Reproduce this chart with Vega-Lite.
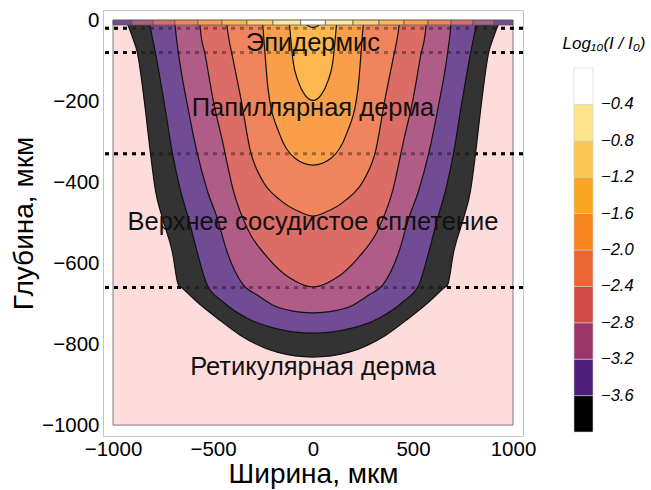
{
  "$schema": "https://vega.github.io/schema/vega-lite/v6.json",
  "width": 420,
  "height": 426,
  "autosize": {"type": "none"},
  "padding": {"left": 103, "top": 10, "right": 128, "bottom": 54},
  "background": "white",
  "config": {
    "view": {"stroke": "#c4c4c4", "strokeWidth": 1},
    "font": "Liberation Sans",
    "text": {"font": "Liberation Sans"}
  },
  "datasets": {
    "frame": [{"x1": -1000, "x2": 1000, "y1": 0, "y2": -1000}],
    "dash": [{"d": -20}, {"d": -80}, {"d": -330}, {"d": -660}],
    "bounds": [
      {"b": "k", "x": -930, "d": -8}, {"b": "k", "x": -923, "d": -15}, {"b": "k", "x": -903, "d": -42}, {"b": "k", "x": -878, "d": -81}, {"b": "k", "x": -838, "d": -222}, {"b": "k", "x": -813, "d": -328}, {"b": "k", "x": -788, "d": -420}, {"b": "k", "x": -753, "d": -489}, {"b": "k", "x": -703, "d": -573}, {"b": "k", "x": -673, "d": -654}, {"b": "k", "x": -653, "d": -662}, {"b": "k", "x": -579, "d": -696}, {"b": "k", "x": -479, "d": -736}, {"b": "k", "x": -364, "d": -778}, {"b": "k", "x": -180, "d": -820}, {"b": "k", "x": 0, "d": -832},
      {"b": "k", "x": 180, "d": -820}, {"b": "k", "x": 364, "d": -778}, {"b": "k", "x": 479, "d": -736}, {"b": "k", "x": 579, "d": -696}, {"b": "k", "x": 653, "d": -662}, {"b": "k", "x": 673, "d": -654}, {"b": "k", "x": 703, "d": -573}, {"b": "k", "x": 753, "d": -489}, {"b": "k", "x": 788, "d": -420}, {"b": "k", "x": 813, "d": -328}, {"b": "k", "x": 838, "d": -222}, {"b": "k", "x": 878, "d": -81}, {"b": "k", "x": 903, "d": -42}, {"b": "k", "x": 923, "d": -15}, {"b": "k", "x": 930, "d": -8},

      {"b": "p", "x": -818, "d": -8}, {"b": "p", "x": -813, "d": -20}, {"b": "p", "x": -788, "d": -81}, {"b": "p", "x": -738, "d": -222}, {"b": "p", "x": -703, "d": -328}, {"b": "p", "x": -663, "d": -420}, {"b": "p", "x": -623, "d": -489}, {"b": "p", "x": -579, "d": -573}, {"b": "p", "x": -529, "d": -654}, {"b": "p", "x": -449, "d": -696}, {"b": "p", "x": -329, "d": -736}, {"b": "p", "x": -200, "d": -760}, {"b": "p", "x": 0, "d": -773},
      {"b": "p", "x": 200, "d": -760}, {"b": "p", "x": 329, "d": -736}, {"b": "p", "x": 449, "d": -696}, {"b": "p", "x": 529, "d": -654}, {"b": "p", "x": 579, "d": -573}, {"b": "p", "x": 623, "d": -489}, {"b": "p", "x": 663, "d": -420}, {"b": "p", "x": 703, "d": -328}, {"b": "p", "x": 738, "d": -222}, {"b": "p", "x": 788, "d": -81}, {"b": "p", "x": 813, "d": -20}, {"b": "p", "x": 818, "d": -8},

      {"b": "m", "x": -690, "d": -8}, {"b": "m", "x": -688, "d": -20}, {"b": "m", "x": -673, "d": -81}, {"b": "m", "x": -623, "d": -222}, {"b": "m", "x": -579, "d": -328}, {"b": "m", "x": -529, "d": -420}, {"b": "m", "x": -479, "d": -489}, {"b": "m", "x": -429, "d": -573}, {"b": "m", "x": -349, "d": -654}, {"b": "m", "x": -279, "d": -679}, {"b": "m", "x": -200, "d": -704}, {"b": "m", "x": -65, "d": -721}, {"b": "m", "x": 0, "d": -723},
      {"b": "m", "x": 65, "d": -721}, {"b": "m", "x": 200, "d": -704}, {"b": "m", "x": 279, "d": -679}, {"b": "m", "x": 349, "d": -654}, {"b": "m", "x": 429, "d": -573}, {"b": "m", "x": 479, "d": -489}, {"b": "m", "x": 529, "d": -420}, {"b": "m", "x": 579, "d": -328}, {"b": "m", "x": 623, "d": -222}, {"b": "m", "x": 673, "d": -81}, {"b": "m", "x": 688, "d": -20}, {"b": "m", "x": 690, "d": -8},

      {"b": "r", "x": -566, "d": -8}, {"b": "r", "x": -564, "d": -20}, {"b": "r", "x": -539, "d": -86}, {"b": "r", "x": -499, "d": -198}, {"b": "r", "x": -454, "d": -296}, {"b": "r", "x": -399, "d": -420}, {"b": "r", "x": -324, "d": -519}, {"b": "r", "x": -229, "d": -585}, {"b": "r", "x": -115, "d": -637}, {"b": "r", "x": 0, "d": -659},
      {"b": "r", "x": 115, "d": -637}, {"b": "r", "x": 229, "d": -585}, {"b": "r", "x": 324, "d": -519}, {"b": "r", "x": 399, "d": -420}, {"b": "r", "x": 454, "d": -296}, {"b": "r", "x": 499, "d": -198}, {"b": "r", "x": 539, "d": -86}, {"b": "r", "x": 564, "d": -20}, {"b": "r", "x": 566, "d": -8},

      {"b": "o1", "x": -432, "d": -8}, {"b": "o1", "x": -429, "d": -20}, {"b": "o1", "x": -399, "d": -99}, {"b": "o1", "x": -359, "d": -198}, {"b": "o1", "x": -314, "d": -321}, {"b": "o1", "x": -254, "d": -395}, {"b": "o1", "x": -165, "d": -444}, {"b": "o1", "x": -65, "d": -474}, {"b": "o1", "x": 0, "d": -484},
      {"b": "o1", "x": 65, "d": -474}, {"b": "o1", "x": 165, "d": -444}, {"b": "o1", "x": 254, "d": -395}, {"b": "o1", "x": 314, "d": -321}, {"b": "o1", "x": 359, "d": -198}, {"b": "o1", "x": 399, "d": -99}, {"b": "o1", "x": 429, "d": -20}, {"b": "o1", "x": 432, "d": -8},

      {"b": "o2", "x": -252, "d": -8}, {"b": "o2", "x": -249, "d": -25}, {"b": "o2", "x": -224, "d": -173}, {"b": "o2", "x": -165, "d": -284}, {"b": "o2", "x": -90, "d": -341}, {"b": "o2", "x": 0, "d": -358},
      {"b": "o2", "x": 90, "d": -341}, {"b": "o2", "x": 165, "d": -284}, {"b": "o2", "x": 224, "d": -173}, {"b": "o2", "x": 249, "d": -25}, {"b": "o2", "x": 252, "d": -8},

      {"b": "o3", "x": -118, "d": -8}, {"b": "o3", "x": -115, "d": -25}, {"b": "o3", "x": -100, "d": -100}, {"b": "o3", "x": -75, "d": -150}, {"b": "o3", "x": -40, "d": -185}, {"b": "o3", "x": 0, "d": -198},
      {"b": "o3", "x": 40, "d": -185}, {"b": "o3", "x": 75, "d": -150}, {"b": "o3", "x": 100, "d": -100}, {"b": "o3", "x": 115, "d": -25}, {"b": "o3", "x": 118, "d": -8},

      {"b": "g", "x": -35, "d": -8}, {"b": "g", "x": -25, "d": -14}, {"b": "g", "x": 0, "d": -18}, {"b": "g", "x": 25, "d": -14}, {"b": "g", "x": 35, "d": -8}
    ],
    "strip": [
      {"x1": -1000, "x2": -905, "b": "p"}, {"x1": -905, "x2": -800, "b": "m"}, {"x1": -800, "x2": -690, "b": "r"}, {"x1": -690, "x2": -575, "b": "o1"}, {"x1": -575, "x2": -455, "b": "o2"}, {"x1": -455, "x2": -330, "b": "o3"}, {"x1": -330, "x2": -200, "b": "g"}, {"x1": -200, "x2": -62, "b": "y"}, {"x1": -62, "x2": 62, "b": "w"},
      {"x1": 62, "x2": 200, "b": "y"}, {"x1": 200, "x2": 330, "b": "g"}, {"x1": 330, "x2": 455, "b": "o3"}, {"x1": 455, "x2": 575, "b": "o2"}, {"x1": 575, "x2": 690, "b": "o1"}, {"x1": 690, "x2": 800, "b": "r"}, {"x1": 800, "x2": 905, "b": "m"}, {"x1": 905, "x2": 1000, "b": "p"}
    ],
    "labels": [
      {"t": "Эпидермис", "x": 0, "d": -57},
      {"t": "Папиллярная дерма", "x": 0, "d": -217},
      {"t": "Верхнее сосудистое сплетение", "x": 0, "d": -499},
      {"t": "Ретикулярная дерма", "x": 0, "d": -857}
    ],
    "leg": [{"v": -3.8}, {"v": -0.2}]
  },
  "layer": [
    {
      "data": {"name": "frame"},
      "mark": {"type": "rect", "fill": "#ffdcdc", "stroke": "#7a7a7a", "strokeWidth": 1},
      "encoding": {
        "x": {"field": "x1", "type": "quantitative", "scale": {"domain": [-1050, 1050], "nice": false, "zero": false},
          "axis": {"title": "Ширина, мкм", "values": [-1000, -500, 0, 500, 1000], "format": "d", "grid": false, "domain": false, "ticks": false, "labelFontSize": 20.5, "labelPadding": 3, "labelColor": "#000", "labelOverlap": false, "labelFlush": false, "titleFontSize": 28, "titleFontWeight": "normal", "titleColor": "#000", "titlePadding": 1}},
        "x2": {"field": "x2"},
        "y": {"field": "y1", "type": "quantitative", "scale": {"domain": [-1027, 25], "nice": false, "zero": false},
          "axis": {"title": "Глубина, мкм", "values": [-1000, -800, -600, -400, -200, 0], "format": "d", "grid": false, "domain": false, "ticks": false, "labelFontSize": 20.5, "labelPadding": 4, "labelColor": "#000", "labelOverlap": false, "labelFlush": false, "titleFontSize": 28, "titleFontWeight": "normal", "titleColor": "#000", "titlePadding": 3}},
        "y2": {"field": "y2"}
      }
    },
    {
      "data": {"name": "dash"},
      "mark": {"type": "rule", "color": "#000", "strokeWidth": 3, "strokeDash": [4, 5]},
      "encoding": {"y": {"field": "d", "type": "quantitative"}}
    },
    {
      "data": {"name": "bounds"},
      "transform": [{"filter": "datum.b === 'k'"}],
      "mark": {"type": "area", "interpolate": "monotone"},
      "encoding": {"x": {"field": "x", "type": "quantitative"}, "y": {"field": "d", "type": "quantitative", "stack": null}, "y2": {"datum": 0},
        "fill": {"field": "b", "type": "nominal", "legend": null, "scale": {"domain": ["k", "p", "m", "r", "o1", "o2", "o3", "g", "y", "w"], "range": ["#333333", "#714b94", "#af5d86", "#dc6c66", "#f0845c", "#f99e49", "#fcb84f", "#fdd175", "#fde9a3", "#ffffff"]}}}
    },
    {
      "data": {"name": "bounds"},
      "transform": [{"filter": "datum.b === 'p'"}],
      "mark": {"type": "area", "interpolate": "monotone"},
      "encoding": {"x": {"field": "x", "type": "quantitative"}, "y": {"field": "d", "type": "quantitative", "stack": null}, "y2": {"datum": 0}, "fill": {"field": "b", "type": "nominal", "legend": null}}
    },
    {
      "data": {"name": "bounds"},
      "transform": [{"filter": "datum.b === 'm'"}],
      "mark": {"type": "area", "interpolate": "monotone"},
      "encoding": {"x": {"field": "x", "type": "quantitative"}, "y": {"field": "d", "type": "quantitative", "stack": null}, "y2": {"datum": 0}, "fill": {"field": "b", "type": "nominal", "legend": null}}
    },
    {
      "data": {"name": "bounds"},
      "transform": [{"filter": "datum.b === 'r'"}],
      "mark": {"type": "area", "interpolate": "monotone"},
      "encoding": {"x": {"field": "x", "type": "quantitative"}, "y": {"field": "d", "type": "quantitative", "stack": null}, "y2": {"datum": 0}, "fill": {"field": "b", "type": "nominal", "legend": null}}
    },
    {
      "data": {"name": "bounds"},
      "transform": [{"filter": "datum.b === 'o1'"}],
      "mark": {"type": "area", "interpolate": "monotone"},
      "encoding": {"x": {"field": "x", "type": "quantitative"}, "y": {"field": "d", "type": "quantitative", "stack": null}, "y2": {"datum": 0}, "fill": {"field": "b", "type": "nominal", "legend": null}}
    },
    {
      "data": {"name": "bounds"},
      "transform": [{"filter": "datum.b === 'o2'"}],
      "mark": {"type": "area", "interpolate": "monotone"},
      "encoding": {"x": {"field": "x", "type": "quantitative"}, "y": {"field": "d", "type": "quantitative", "stack": null}, "y2": {"datum": 0}, "fill": {"field": "b", "type": "nominal", "legend": null}}
    },
    {
      "data": {"name": "bounds"},
      "transform": [{"filter": "datum.b === 'o3'"}],
      "mark": {"type": "area", "interpolate": "monotone"},
      "encoding": {"x": {"field": "x", "type": "quantitative"}, "y": {"field": "d", "type": "quantitative", "stack": null}, "y2": {"datum": 0}, "fill": {"field": "b", "type": "nominal", "legend": null}}
    },
    {
      "data": {"name": "bounds"},
      "transform": [{"filter": "datum.b === 'g'"}],
      "mark": {"type": "area", "interpolate": "monotone"},
      "encoding": {"x": {"field": "x", "type": "quantitative"}, "y": {"field": "d", "type": "quantitative", "stack": null}, "y2": {"datum": 0}, "fill": {"field": "b", "type": "nominal", "legend": null}}
    },
    {
      "data": {"name": "dash"},
      "mark": {"type": "rule", "color": "#000", "strokeWidth": 3, "strokeDash": [4, 5], "opacity": 0.35},
      "encoding": {"y": {"field": "d", "type": "quantitative"}}
    },
    {
      "data": {"name": "bounds"},
      "mark": {"type": "line", "interpolate": "monotone", "color": "#111", "strokeWidth": 1.2},
      "encoding": {"x": {"field": "x", "type": "quantitative"}, "y": {"field": "d", "type": "quantitative"}, "detail": {"field": "b"}}
    },
    {
      "data": {"name": "strip"},
      "mark": {"type": "rect", "stroke": "#555", "strokeWidth": 0.7},
      "encoding": {"x": {"field": "x1", "type": "quantitative"}, "x2": {"field": "x2"}, "y": {"datum": 0}, "y2": {"datum": -12}, "fill": {"field": "b", "type": "nominal", "legend": null}}
    },
    {
      "data": {"name": "labels"},
      "mark": {"type": "text", "fontSize": 25.5, "color": "#111", "align": "center", "baseline": "middle"},
      "encoding": {"x": {"field": "x", "type": "quantitative"}, "y": {"field": "d", "type": "quantitative"}, "text": {"field": "t"}}
    },
    {
      "data": {"name": "leg"},
      "mark": {"type": "point", "opacity": 0},
      "encoding": {
        "x": {"datum": 0}, "y": {"datum": 0},
        "color": {"field": "v", "type": "quantitative",
          "scale": {"type": "threshold", "domain": [-3.6, -3.2, -2.8, -2.4, -2.0, -1.6, -1.2, -0.8, -0.4], "range": ["#000000", "#4e1e79", "#9b3468", "#d04b47", "#ec6533", "#f7861c", "#fba623", "#fcc653", "#fde38c", "#ffffff"]},
          "legend": {"type": "gradient", "orient": "none", "legendX": 460, "legendY": 26, "direction": "vertical", "padding": 0, "gradientLength": 364, "gradientThickness": 19, "gradientStrokeColor": "#cccccc", "gradientStrokeWidth": 0.6, "title": "Log₁₀(I / I₀)", "titleFontSize": 17, "titleFontStyle": "italic", "titleFontWeight": "normal", "titleColor": "#000", "titlePadding": 15, "titleAnchor": "middle", "labelFontSize": 16.5, "labelFontStyle": "italic", "labelColor": "#000", "labelOffset": 8, "labelOverlap": false, "format": ".1f"}}
      }
    }
  ]
}
